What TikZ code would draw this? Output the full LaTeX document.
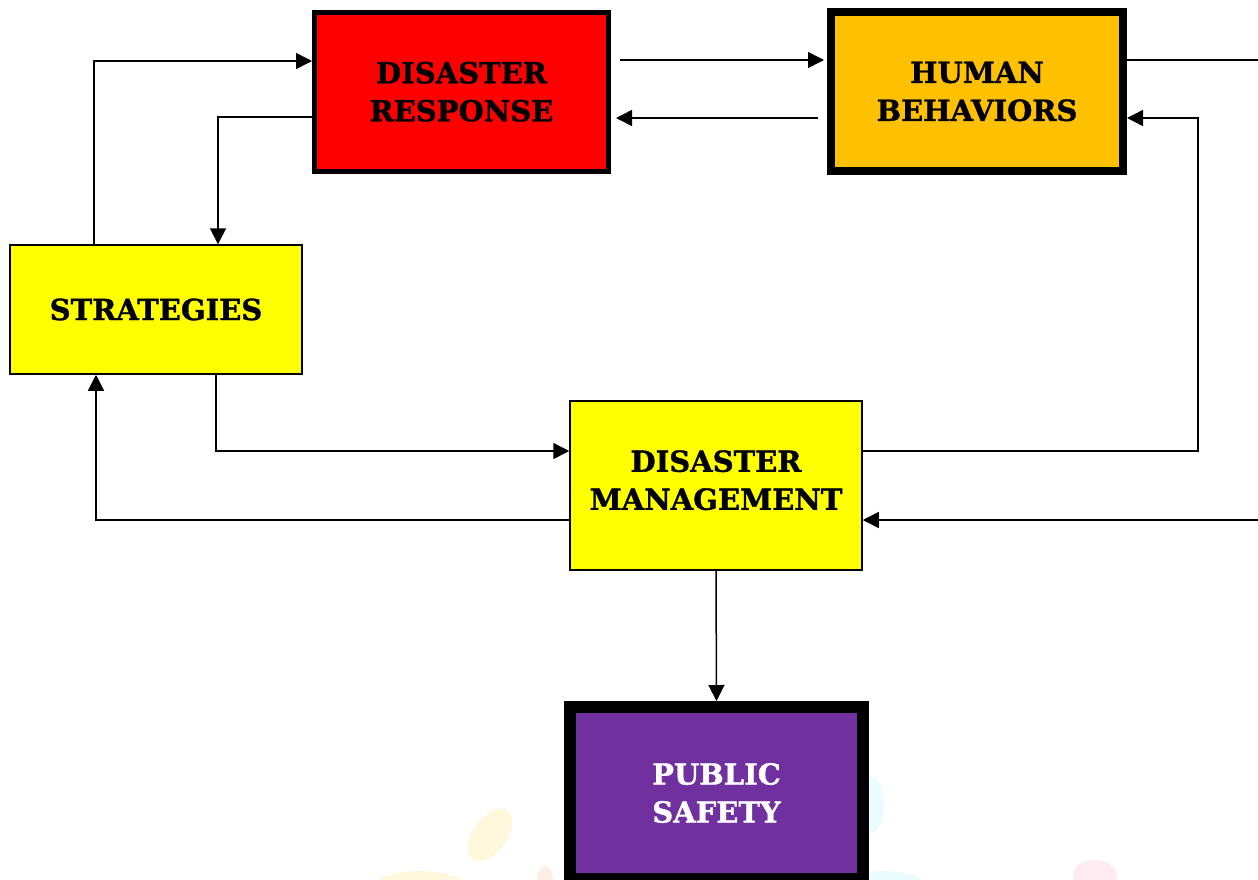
\documentclass[tikz,border=0pt]{standalone}
\usepackage{fontspec}
\setmainfont{DejaVu Serif}[BoldFeatures={FakeBold=1.2}]
\usetikzlibrary{arrows.meta}
\definecolor{drred}{HTML}{FF0000}
\definecolor{hborange}{HTML}{FFC000}
\definecolor{yel}{HTML}{FFFF00}
\definecolor{purp}{HTML}{7030A0}
\definecolor{wmyellow}{HTML}{FFF8DC}
\definecolor{wmcyan}{HTML}{EAFCFD}
\definecolor{wmpink}{HTML}{FDEBF1}
\definecolor{wmorange}{HTML}{FDEFE3}
\tikzset{
  box/.style={draw=black, rectangle, align=center, inner sep=0pt,
    font=\fontsize{29}{38}\selectfont\bfseries},
  conn/.style={draw=black, line width=1.5pt},
  arr/.style={conn, -{Triangle[length=16pt,width=16pt]}},
}
\begin{document}
\begin{tikzpicture}[x=1pt,y=-1pt]
\useasboundingbox (0,0) rectangle (1258,879);
\clip (0,0) rectangle (1258,879);
% faint watermark
\fill[wmyellow, rotate around={-35:(490,835)}] (490,835) ellipse (17 and 30);
\fill[wmyellow] (420,885) ellipse (45 and 14);
\fill[wmorange] (545,880) ellipse (8 and 14);
\fill[wmcyan] (872,805) ellipse (12 and 28);
\fill[wmcyan] (885,885) ellipse (40 and 14);
\fill[wmpink] (1095,875) ellipse (22 and 15);
% boxes
\node[box, fill=drred, line width=5pt, minimum width=294pt, minimum height=159.5pt] (DR) at (461.5,91.75) {DISASTER\\RESPONSE};
\node[box, fill=hborange, line width=8pt, minimum width=292pt, minimum height=159pt] (HB) at (977,91.5) {HUMAN\\BEHAVIORS};
\node[box, fill=yel, line width=1.5pt, minimum width=292pt, minimum height=129pt] (S) at (156,309.5) {STRATEGIES};
\node[box, fill=yel, line width=1.5pt, minimum width=292pt, minimum height=169pt] (DM) at (716,485.5) {DISASTER\\MANAGEMENT\\[-27pt]};
\node[box, fill=purp, text=white, line width=12pt, minimum width=293pt, minimum height=172pt] (PS) at (716.5,793) {PUBLIC\\SAFETY};
% free ends and bends
\coordinate (R1) at (1260,60);
\coordinate (R2) at (1260,520);
\coordinate (B6) at (1198,118);
% connectors
\draw[arr] (S.north -| 94,0) |- (DR.west |- 0,61);
\draw[arr] (DR.west |- 0,117) -| (S.north -| 218,0);
\draw[arr, shorten <=9pt, shorten >=3pt] (DR.east |- 0,60) -- (HB.west |- 0,60);
\draw[arr, shorten <=9pt, shorten >=5pt] (HB.west |- 0,118) -- (DR.east |- 0,118);
\draw[conn] (HB.east |- 0,60) -- (R1);
\draw[arr] (DM.east |- 0,451) -| (B6) -- (HB.east |- 0,118);
\draw[arr] (S.south -| 216,0) |- (DM.west |- 0,451);
\draw[arr] (DM.west |- 0,520) -| (S.south -| 96,0);
\draw[arr] (R2) -- (DM.east |- 0,520);
\draw[arr] (DM.south) -- (PS.north);
\end{tikzpicture}
\end{document}
